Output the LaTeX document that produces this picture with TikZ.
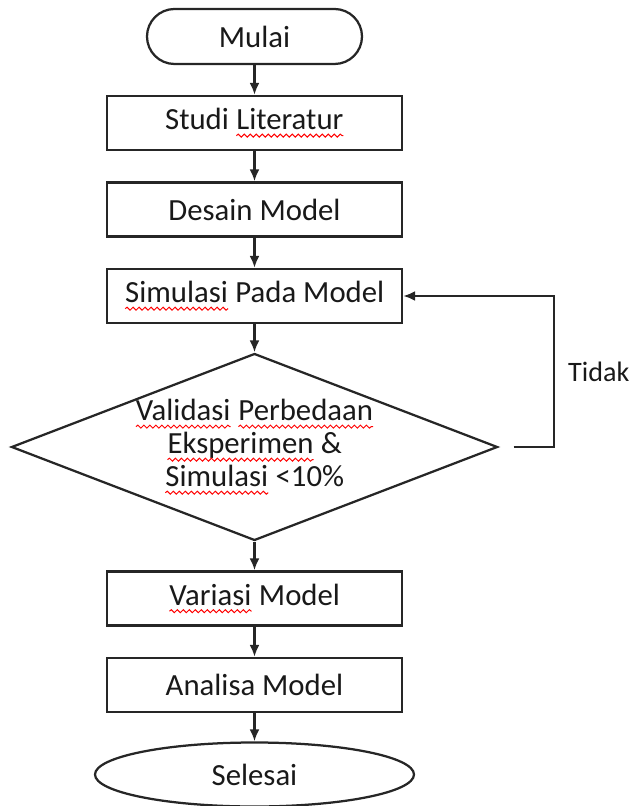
\documentclass[tikz,border=0pt]{standalone}
\usepackage{fontspec}
\setmainfont{Carlito}
\usetikzlibrary{shapes.geometric}
\usetikzlibrary{arrows.meta}
\usetikzlibrary{decorations.pathmorphing}

\newcommand{\typo}[1]{\tikz[baseline=(t.base)]{\node[shape=rectangle, draw=none, inner sep=0pt, outer sep=0pt, minimum width=0pt, minimum height=0pt] (t) {#1};
    \draw[red, line width=0.2mm, decorate, decoration={snake, amplitude=0.3mm, segment length=1.2mm}] ([yshift=-1.2mm]t.base west) -- ([yshift=-1.2mm]t.base east);}}

\begin{document}
\begin{tikzpicture}[node distance={17.3mm},
    font=\fontsize{17.5}{18.8}\selectfont, text=black!90,
    terminal/.style={draw=black!85, line width=0.45mm, rounded corners=5.5mm, minimum width=43mm, minimum height=11mm},
    proses/.style={draw=black!85, line width=0.45mm, minimum width=59mm, minimum height=10.8mm},
    keputusan/.style={draw=black!85, line width=0.45mm, diamond, aspect=2.6, inner sep=0pt, minimum width=95.8mm, minimum height=36.6mm, align=center},
    akhir/.style={draw=black!85, line width=0.45mm, ellipse, minimum width=63.8mm, minimum height=12.8mm}]
    \useasboundingbox (-50.9mm,7.3mm) rectangle (75.7mm,-153.9mm);
    \node[terminal] (mulai) {Mulai};
    \node[proses] (studi) [below of=mulai] {Studi \typo{Literatur}};
    \node[proses] (desain) [below of=studi] {Desain Model};
    \node[proses] (simulasi) [below of=desain] {\typo{Simulasi} Pada Model};
    \node[keputusan] (validasi) [below of=simulasi, node distance=30.2mm] {\typo{Validasi} \typo{Perbedaan}\\ \typo{Eksperimen} \&\\ \typo{Simulasi} <10\%};
    \node[proses] (variasi) [below of=validasi, node distance=30.3mm] {\typo{Variasi} Model};
    \node[proses] (analisa) [below of=variasi] {Analisa Model};
    \node[akhir] (selesai) [below of=analisa, node distance=17.9mm] {Selesai};
\begin{scope}[draw=black!85, line width=0.45mm, -{Latex[length=2.4mm,width=2mm]}]
    \draw (mulai) -- (studi);
    \draw (studi) -- (desain);
    \draw (desain) -- (simulasi);
    \draw (simulasi) -- (validasi);
    \draw (validasi) -- (variasi);
    \draw (variasi) -- (analisa);
    \draw (analisa) -- (selesai);
    \draw[shorten <=3mm] (validasi.east) -- ++(11mm,0) |- node[pos=0.25, right=1.5mm, font=\fontsize{16}{18}\selectfont] (tidak) {Tidak} (simulasi.east);
\end{scope}
\end{tikzpicture}
\end{document}
